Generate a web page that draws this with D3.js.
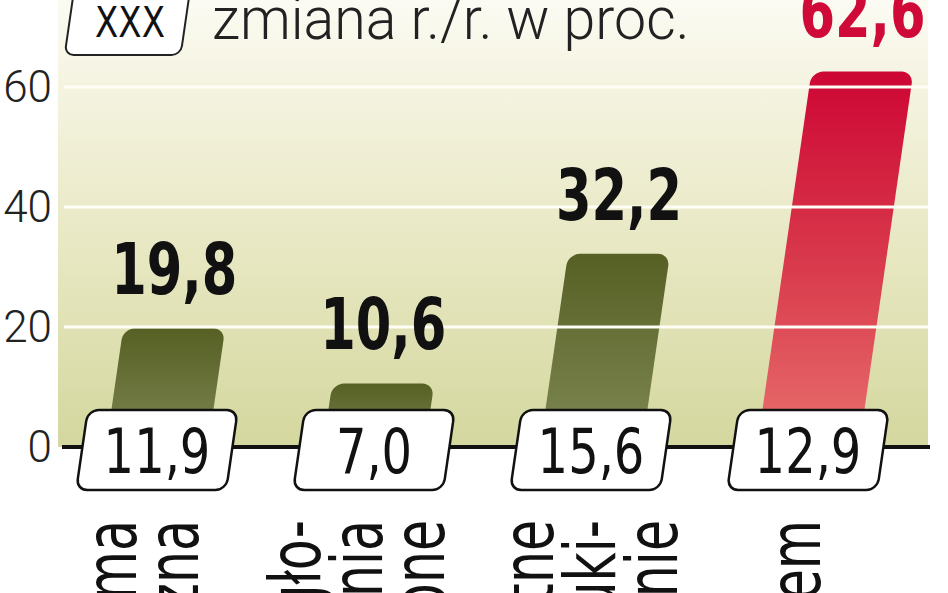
<!DOCTYPE html>
<html>
<head>
<meta charset="utf-8">
<script src="https://cdn.jsdelivr.net/npm/d3@7"></script>
<style>
    html, body { margin: 0; padding: 0; background: #ffffff; overflow: hidden; }
    svg { display: block; }
    .narrow { font-family: "Liberation Sans Narrow", "DejaVu Sans Condensed", "Arial Narrow", sans-serif; }
    .light { font-family: Roboto, "Open Sans", sans-serif; font-weight: 300; }
</style>
</head>
<body>
<div id="chart"></div>
<script>
(function () {
    "use strict";

    const width = 948;
    const height = 593;

    // values
    const categories = ["graficzna", "ogloszenia", "wyszukiwanie", "ogolem"];
    const labelLines = [
        ["Reklama", "graficzna"],
        ["Ogło-", "szenia", "drobne"],
        ["Płatne", "wyszuki-", "wanie"],
        ["Ogółem"]
    ];
    const values = [19.8, 10.6, 32.2, 62.6];
    const changes = ["11,9", "7,0", "15,6", "12,9"];
    const highlighted = [false, false, false, true];
    const yTicks = [0, 20, 40, 60];
    const legendKey = "XXX";
    const legendText = "zmiana r./r. w proc.";

    const fmt = (v) => v.toFixed(1).replace(".", ",");

    const margin = { left: 58, right: 18, baseline: 447 };
    const slant = 0.145;                       // bars lean to the right
    const skewAngle = -Math.atan(slant) * 180 / Math.PI;

    const x = d3.scaleBand()
        .domain(categories)
        .range([48.5, 916.5])
        .paddingInner(0.53)
        .paddingOuter(0.265);

    const y = d3.scaleLinear()
        .domain([0, 60])
        .range([margin.baseline, 87]);

    const cx = (i) => x(categories[i]) + x.bandwidth() / 2;

    const svg = d3.select("#chart")
        .append("svg")
        .attr("width", width)
        .attr("height", height);

    const defs = svg.append("defs");

    const bg = defs.append("linearGradient")
        .attr("id", "bg-grad")
        .attr("x1", 0).attr("y1", 0).attr("x2", 0).attr("y2", 1);
    bg.append("stop").attr("offset", "0").attr("stop-color", "#fbfbf3");
    bg.append("stop").attr("offset", "0.18").attr("stop-color", "#f5f4e2");
    bg.append("stop").attr("offset", "0.6").attr("stop-color", "#e6e6bf");
    bg.append("stop").attr("offset", "1").attr("stop-color", "#d4d79e");

    const green = defs.append("linearGradient")
        .attr("id", "bar-green")
        .attr("x1", 0).attr("y1", 0).attr("x2", 0).attr("y2", 1);
    green.append("stop").attr("offset", "0").attr("stop-color", "#566024");
    green.append("stop").attr("offset", "1").attr("stop-color", "#828b57");

    const red = defs.append("linearGradient")
        .attr("id", "bar-red")
        .attr("x1", 0).attr("y1", 0).attr("x2", 0).attr("y2", 1);
    red.append("stop").attr("offset", "0").attr("stop-color", "#cd0634");
    red.append("stop").attr("offset", "0.5").attr("stop-color", "#d93a4c");
    red.append("stop").attr("offset", "1").attr("stop-color", "#e9736f");

    // plot background
    svg.append("rect")
        .attr("x", margin.left)
        .attr("y", 0)
        .attr("width", width - margin.right - margin.left - 2)
        .attr("height", margin.baseline)
        .attr("fill", "url(#bg-grad)");

    const skew = (cy) => `translate(0,${cy}) skewX(${skewAngle}) translate(0,${-cy})`;

    // bars
    svg.append("g")
        .selectAll("rect")
        .data(values)
        .join("rect")
        .attr("x", (d, i) => x(categories[i]))
        .attr("y", (d) => y(d))
        .attr("width", x.bandwidth())
        .attr("height", (d) => margin.baseline - y(d) + 12)
        .attr("rx", 12)
        .attr("transform", skew(margin.baseline))
        .attr("fill", (d, i) => highlighted[i] ? "url(#bar-red)" : "url(#bar-green)");

    // grid lines sit on top of the bars
    svg.append("g")
        .selectAll("line")
        .data(yTicks.filter((t) => t > 0))
        .join("line")
        .attr("x1", 64)
        .attr("x2", width - margin.right - 2)
        .attr("y1", (d) => y(d))
        .attr("y2", (d) => y(d))
        .attr("stroke", "#fffef6")
        .attr("stroke-width", 3);

    // y tick labels
    svg.append("g")
        .selectAll("text")
        .data(yTicks)
        .join("text")
        .attr("class", "light")
        .attr("x", 52)
        .attr("y", (d) => y(d) + 15)
        .attr("text-anchor", "end")
        .attr("font-size", 44)
        .attr("fill", "#222")
        .text((d) => d);

    // baseline
    svg.append("line")
        .attr("x1", 62)
        .attr("x2", width - margin.right)
        .attr("y1", margin.baseline)
        .attr("y2", margin.baseline)
        .attr("stroke", "#111")
        .attr("stroke-width", 4);

    // change boxes on the baseline
    const boxW = 150;
    const boxTop = 410;
    const boxH = 80;
    const boxes = svg.append("g")
        .selectAll("g")
        .data(changes)
        .join("g");

    boxes.append("rect")
        .attr("x", (d, i) => cx(i) - boxW / 2)
        .attr("y", boxTop)
        .attr("width", boxW)
        .attr("height", boxH)
        .attr("rx", 11)
        .attr("transform", skew(boxTop + boxH / 2))
        .attr("fill", "#ffffff")
        .attr("stroke", "#111")
        .attr("stroke-width", 2.5);

    boxes.append("text")
        .attr("class", "narrow")
        .attr("transform", (d, i) => `translate(${cx(i)},473) scale(0.86,1)`)
        .attr("text-anchor", "middle")
        .attr("font-size", 62)
        .attr("fill", "#111")
        .text((d) => d);

    // value labels above the bars
    svg.append("g")
        .selectAll("text")
        .data(values)
        .join("text")
        .attr("class", "narrow")
        .attr("transform", (d, i) => `translate(${cx(i) + slant * (margin.baseline - y(d))},${y(d) - 34}) scale(0.8,1)`)
        .attr("text-anchor", "middle")
        .attr("font-size", 71)
        .attr("font-weight", 700)
        .attr("fill", (d, i) => highlighted[i] ? "#cf0a38" : "#111")
        .text((d) => fmt(d));

    // category labels, rotated, run off the bottom edge
    const labelShift = [-8, -10, 6, -6];
    const cat = svg.append("g")
        .selectAll("g")
        .data(labelLines)
        .join("g")
        .attr("transform", (d, i) => `translate(${cx(i) + labelShift[i]},520) rotate(-90)`);

    cat.each(function (lines) {
        const g = d3.select(this);
        lines.forEach((line, j) => {
            g.append("text")
                .attr("class", "narrow")
                .attr("text-anchor", "end")
                .attr("font-size", 72)
                .attr("fill", "#111")
                .attr("transform", `translate(0,${18 + (j - (lines.length - 1) / 2) * 62}) scale(0.78,1)`)
                .text(line);
        });
    });

    // legend
    const legend = svg.append("g");
    legend.append("rect")
        .attr("x", 70)
        .attr("y", -20)
        .attr("width", 116)
        .attr("height", 75)
        .attr("rx", 9)
        .attr("transform", skew(18))
        .attr("fill", "#ffffff")
        .attr("stroke", "#222")
        .attr("stroke-width", 2);

    legend.append("text")
        .attr("class", "narrow")
        .attr("transform", "translate(130,37) scale(0.9,1)")
        .attr("text-anchor", "middle")
        .attr("font-size", 42)
        .attr("fill", "#111")
        .text(legendKey);

    legend.append("text")
        .attr("class", "light")
        .attr("transform", "translate(212,39) scale(0.955,1)")
        .attr("font-size", 60)
        .attr("fill", "#222")
        .text(legendText);
}());
</script>
</body>
</html>
